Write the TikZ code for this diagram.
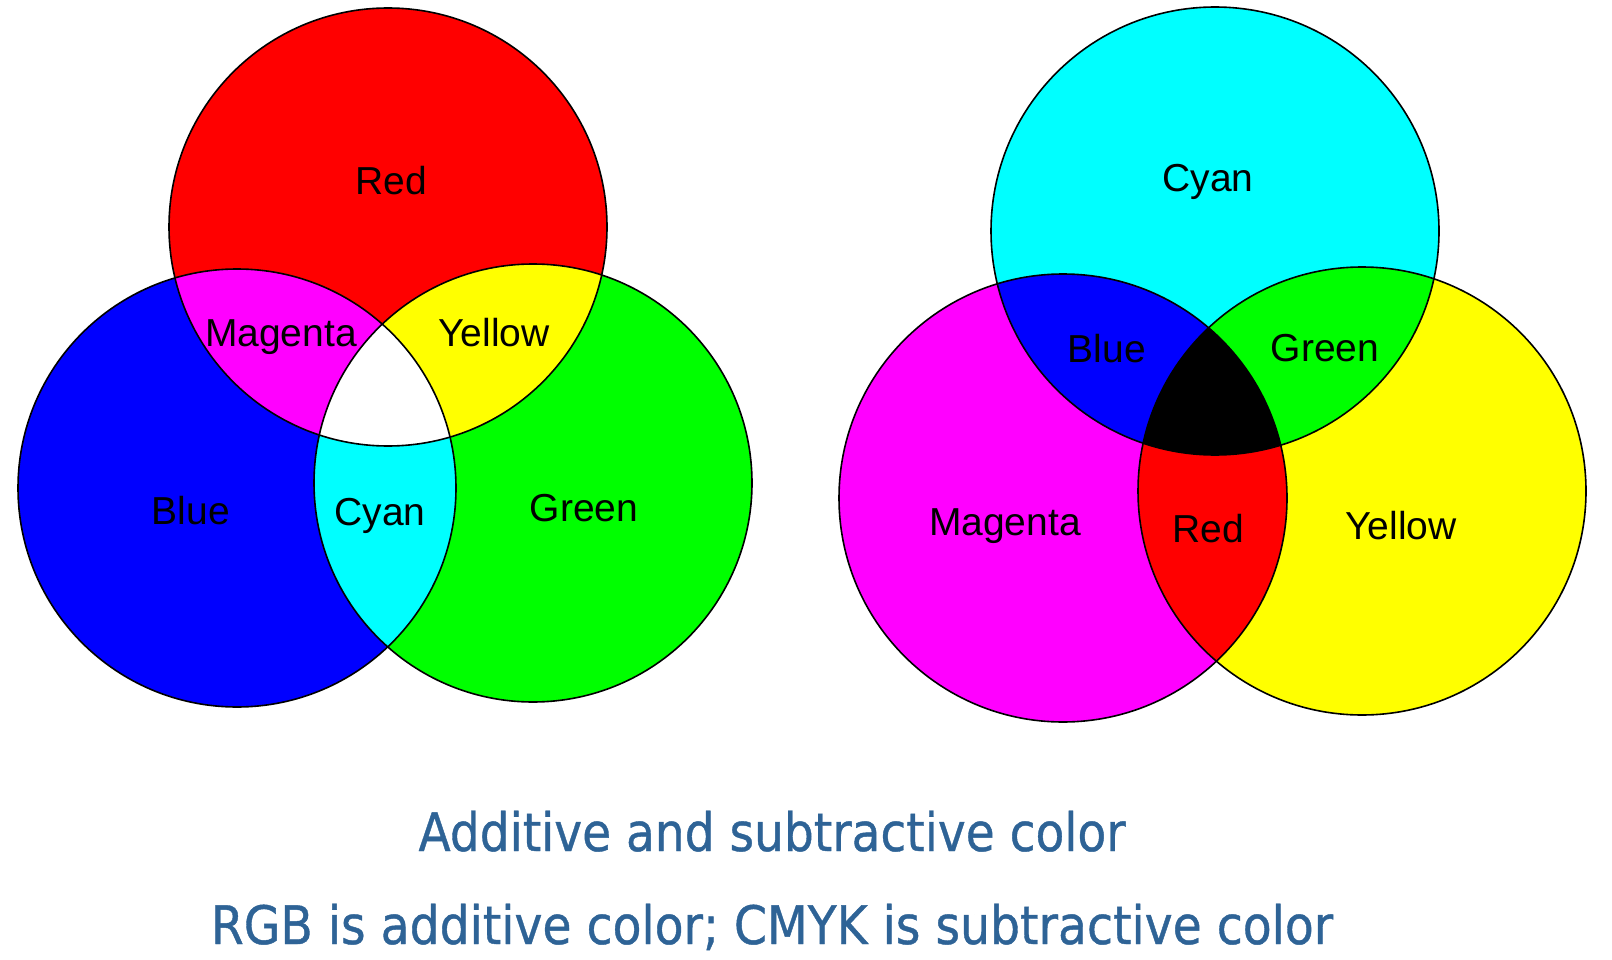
\documentclass[tikz,border=0pt]{standalone}
\usepackage{fontspec}
\setmainfont{Liberation Sans}
\newfontfamily\capfont[FakeBold=0.8]{DejaVu Sans}
\usetikzlibrary{positioning}
\definecolor{capblue}{RGB}{46,99,150}
\definecolor{pRed}{RGB}{255,0,0}
\definecolor{pGreen}{RGB}{0,255,0}
\definecolor{pBlue}{RGB}{0,0,255}
\definecolor{pCyan}{RGB}{0,255,255}
\definecolor{pMagenta}{RGB}{255,0,255}
\definecolor{pYellow}{RGB}{255,255,0}

\tikzset{
    lbl/.style={font=\fontsize{39}{44}\selectfont, inner sep=0pt, anchor=base},
    rim/.style={draw=black, line width=1.6pt},
    capline/.style={text=capblue, inner sep=0pt, anchor=base}
}

\begin{document}
\begin{tikzpicture}[x=1pt, y=-1pt]
    \useasboundingbox (0,0) rectangle (1612,960);
    % additive (RGB)
    \def\ra{219pt}
    \coordinate (lr) at (388,227);
    \coordinate (lb) at (237,488);
    \coordinate (lg) at (533,483);
    \fill[pRed] (lr) circle (\ra);
    \fill[pBlue] (lb) circle (\ra);
    \fill[pGreen] (lg) circle (\ra);
    \begin{scope}
        \clip (lb) circle (\ra);
        \fill[pCyan] (lg) circle (\ra);
    \end{scope}
    \begin{scope}
        \clip (lr) circle (\ra);
        \fill[pMagenta] (lb) circle (\ra);
        \fill[pYellow] (lg) circle (\ra);
        \clip (lb) circle (\ra);
        \fill[white] (lg) circle (\ra);
    \end{scope}
    \foreach \c in {lr,lb,lg} {
        \draw[rim] (\c) circle (\ra);
    }
    % subtractive (CMYK)
    \def\rb{224pt}
    \coordinate (rc) at (1215,231);
    \coordinate (rm) at (1063,498);
    \coordinate (ry) at (1362,491);
    \fill[pCyan] (rc) circle (\rb);
    \fill[pMagenta] (rm) circle (\rb);
    \fill[pYellow] (ry) circle (\rb);
    \begin{scope}
        \clip (rm) circle (\rb);
        \fill[pRed] (ry) circle (\rb);
    \end{scope}
    \begin{scope}
        \clip (rc) circle (\rb);
        \fill[pBlue] (rm) circle (\rb);
        \fill[pGreen] (ry) circle (\rb);
        \clip (rm) circle (\rb);
        \fill[black] (ry) circle (\rb);
    \end{scope}
    \foreach \c in {rc,rm,ry} {
        \draw[rim] (\c) circle (\rb);
    }
    % labels
    \foreach \n/\x/\y/\t in {lRed/391/195/Red, lMag/281/346/Magenta, lYel/494/346/Yellow,
        lBlue/191/524/Blue, lCyan/380/525/Cyan, lGreen/584/521/Green,
        rCyan/1208/192/Cyan, rBlue/1107/362/Blue, rGreen/1325/361/Green,
        rMag/1005/535/Magenta, rRed/1208/542/Red, rYel/1401/539/Yellow} {
        \node[lbl] (\n) at (\x,\y) {\t};
    }
    \node[capline] (title) at (772,851)
        {\resizebox{707pt}{\height}{\capfont\fontsize{53}{60}\selectfont Additive and subtractive color}};
    \node[capline] (note) at (772,944)
        {\resizebox{1122pt}{\height}{\capfont\fontsize{53}{60}\selectfont RGB is additive color; CMYK is subtractive color}};
\end{tikzpicture}
\end{document}
